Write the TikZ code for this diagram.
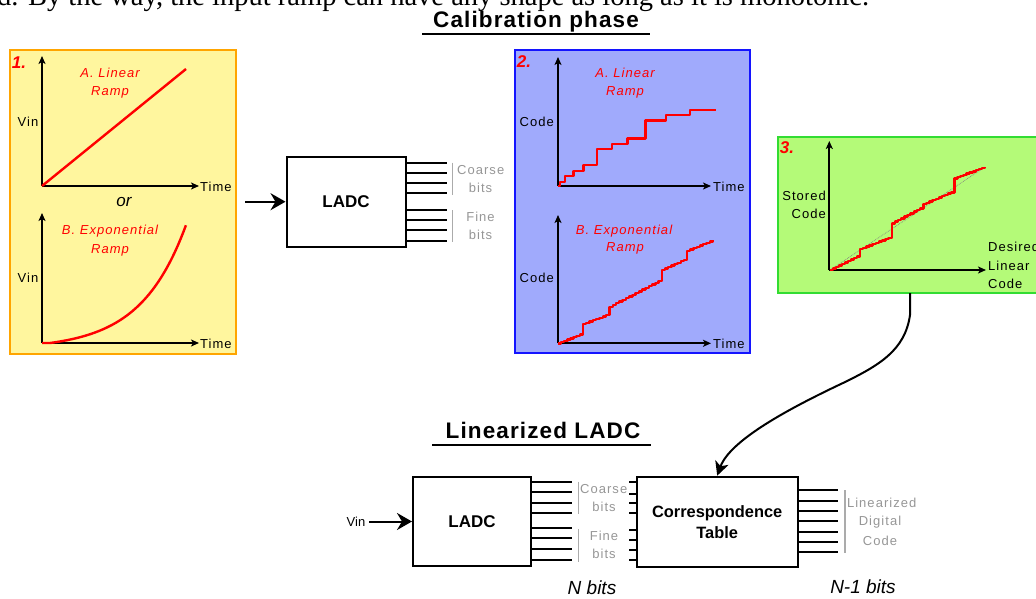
\documentclass[tikz,border=0pt]{standalone}
\usepackage{fontspec}
\setmainfont{Liberation Sans}
\newfontfamily\tnrfont{Liberation Serif}
\newfontfamily\titlefont[LetterSpace=5]{Liberation Sans}
\newfontfamily\spfont[LetterSpace=8]{Liberation Sans}
\usetikzlibrary{arrows.meta}
\newcommand\pxs[1]{\fontsize{#1}{#1}\selectfont}
\definecolor{pyellow}{RGB}{255,246,158}
\definecolor{porange}{RGB}{255,165,0}
\definecolor{pblue}{RGB}{160,170,252}
\definecolor{pblueb}{RGB}{20,20,255}
\definecolor{pgreen}{RGB}{180,250,120}
\definecolor{pgreenb}{RGB}{50,220,50}
\definecolor{lgray}{RGB}{150,150,150}
\definecolor{rred}{RGB}{255,0,0}
\begin{document}
\begin{tikzpicture}[x=1pt,y=-1pt,
 panel/.style={line width=2pt, anchor=north west, inner sep=0, outer sep=0},
 axis/.style={line width=1.8pt, -{Stealth[length=8pt,width=7pt,inset=2pt]}},
 ramp/.style={rred, line width=2.4pt, line join=round},
 lbl/.style={inner sep=0, font=\spfont\pxs{13}},
 rlbl/.style={inner sep=0, text=rred, font=\spfont\pxs{13}\itshape},
 num/.style={inner sep=0, text=rred, font=\pxs{17}\bfseries\itshape},
 glbl/.style={inner sep=0, text=lgray, font=\spfont\pxs{13}},
 box/.style={draw, line width=2pt, fill=white, inner sep=0},
 wire/.style={line width=2pt},
 bar/.style={line width=1.5pt, color=lgray!80},
 bigarrow/.style={line width=2pt, -{Stealth[length=15pt,width=17pt,inset=5pt]}},
 title/.style={inner sep=0, font=\titlefont\pxs{22.5}\bfseries},
 ]
\useasboundingbox (0,0) rectangle (1036,599);
\clip (0,0) rectangle (1036,599);

% cropped sentence at the top (cut off by the picture's edge, as in the source)
\node[anchor=base west, inner sep=0, font=\tnrfont\pxs{28.5}] (intro) at (-3,5.5) {d. By the way, the input ramp can have any shape as long as it is monotonic.};

% titles
\node[title] (cal) at (536,21.5) {Calibration phase};
\draw[line width=2pt] (422,34) -- (650,34);
\node[title] (lin) at (543,430) {Linearized LADC};
\draw[line width=2pt] (432,444.5) -- (651,444.5);

% panels
\node[panel, draw=porange, fill=pyellow, minimum width=226pt, minimum height=304pt] (p1) at (10,50) {};
\node[panel, draw=pblueb, fill=pblue, minimum width=235pt, minimum height=303pt] (p2) at (515,50) {};
\node[panel, draw=pgreenb, fill=pgreen, minimum width=264pt, minimum height=156pt] (p3) at (778,137) {};

% panel 1
\node[num] (n1) at (19,63) {1.};
\draw[axis] (42,186) -- (42,56);
\draw[axis] (42,186) -- (199,186);
\node[lbl, anchor=west] (t1a) at (200,187) {Time};
\node[lbl] (v1a) at (28,122) {Vin};
\draw[ramp] (42,186) -- (186,69);
\node[rlbl] (r1a) at (110,73) {A. Linear};
\node[rlbl] (r1b) at (110,92) {Ramp};
\node[inner sep=0, font=\pxs{17}\itshape] (or) at (124,202) {or};
\draw[axis] (42,343) -- (42,213);
\draw[axis] (42,343) -- (199,343);
\node[lbl, anchor=west] (t1b) at (200,344) {Time};
\node[lbl] (v1b) at (28,278) {Vin};
\draw[ramp] (42,343) -- (50,343) -- plot[domain=0:1, samples=60] ({50+136*\x},{343-118*(exp(3.0*\x)-1)/(exp(3.0)-1)});
\node[rlbl] (r1c) at (110,231) {B. Exponential};
\node[rlbl] (r1d) at (110,250) {Ramp};

% LADC (calibration)
\node[box, minimum width=119pt, minimum height=90pt, font=\pxs{17}\bfseries] (ladc1) at (346,201.7) {LADC};
\coordinate (in1) at (245,201.7);
\draw[bigarrow] (in1) -- (ladc1.west);
\foreach \y in {162.7,172.7,183.3,193.3,210,220,230,240.7} \draw[wire] (405.5,\y) -- (447,\y);
\draw[bar] (452.3,162.7) -- (452.3,195);
\draw[bar] (452.3,210) -- (452.3,241.7);
\node[glbl] (cb1) at (480.7,170) {Coarse};
\node[glbl] (cb2) at (480.5,188) {bits};
\node[glbl] (fb1) at (480.5,217) {Fine};
\node[glbl] (fb2) at (480.5,235) {bits};

% panel 2
\node[num] (n2) at (524,62) {2.};
\draw[axis] (558,186) -- (558,57);
\draw[axis] (558,186) -- (711,186);
\node[lbl, anchor=west] (t2a) at (713,186.5) {Time};
\node[lbl, anchor=east] (c2a) at (554,122) {Code};
\node[rlbl] (r2a) at (625,73) {A. Linear};
\node[rlbl] (r2b) at (625,92) {Ramp};
\draw[ramp] (558,186) -- (560,186) -- (560,182) -- (565,182) -- (565,176) -- (573.3,176) -- (573.3,170.7) -- (583.3,170.7) -- (583.3,165) -- (596.7,165) -- (596.7,149) -- (611.7,149) -- (611.7,144) -- (627.3,144) -- (627.3,138.7) -- (645.3,138.7) -- (645.3,120.7) -- (666,120.7) -- (666,115.3) -- (690,115.3) -- (690,110) -- (716,110);
\draw[axis] (558,343.3) -- (558,215);
\draw[axis] (558,343.3) -- (711,343.3);
\node[lbl, anchor=west] (t2b) at (713,343.8) {Time};
\node[lbl, anchor=east] (c2b) at (554,278.3) {Code};
\node[rlbl] (r2c) at (624,231) {B. Exponential};
\node[rlbl] (r2d) at (625,248.5) {Ramp};
\draw[ramp] (558,343.3) foreach \i in {1,...,8}{ -- ++(3.1,0) -- ++(0,-1.25)} -- ++(0,-9.3)
  foreach \i in {1,...,8}{ -- ++(3.33,0) -- ++(0,-1.25)} -- ++(0,-7.3)
  foreach \i in {1,...,16}{ -- ++(3.28,0) -- ++(0,-1.71)} -- ++(0,-9.3)
  foreach \i in {1,...,8}{ -- ++(3.13,0) -- ++(0,-1.46)} -- ++(0,-7.6)
  foreach \i in {1,...,8}{ -- ++(3.25,0) -- ++(0,-1.34)};

% panel 3
\node[num] (n3) at (787,148) {3.};
\draw[axis] (829.3,270) -- (829.3,141);
\draw[axis] (829.3,270) -- (986,270);
\node[lbl, anchor=east] (s3a) at (826,196) {Stored};
\node[lbl, anchor=east] (s3b) at (826,214.3) {Code};
\node[lbl, anchor=west] (d3a) at (988,246.7) {Desired};
\node[lbl, anchor=west] (d3b) at (988,265.7) {Linear};
\node[lbl, anchor=west] (d3c) at (988,284.3) {Code};
\draw[densely dotted, gray, line width=0.7pt] (830,270) -- (985,167);
\draw[ramp] (830,270) foreach \i in {1,...,10}{ -- ++(3,0) -- ++(0,-1.5)} -- ++(0,-6)
  foreach \i in {1,...,10}{ -- ++(3.17,0) -- ++(0,-1.23)} -- ++(0,-13.4)
  foreach \i in {1,...,10}{ -- ++(3.16,0) -- ++(0,-1.66)} -- ++(0,-2.7)
  foreach \i in {1,...,10}{ -- ++(3.1,0) -- ++(0,-1.3)} -- ++(0,-12.7)
  foreach \i in {1,...,10}{ -- ++(3.07,0) -- ++(0,-1.16)};

% linearized LADC
\node[box, minimum width=118pt, minimum height=89pt, font=\pxs{17}\bfseries] (ladc2) at (472,521.5) {LADC};
\node[inner sep=0, font=\pxs{13}] (vin) at (356,521.5) {Vin};
\draw[bigarrow, shorten <=4pt] (vin) -- (ladc2);
\foreach \y in {481.7,491.7,502.7,512.7,528.3,538.3,549.3,560} \draw[wire] (531,\y) -- (572,\y);
\draw[bar] (578.3,481.7) -- (578.3,514);
\draw[bar] (578.3,529.3) -- (578.3,561.7);
\node[glbl] (cb3) at (603.7,489) {Coarse};
\node[glbl] (cb4) at (604,507.3) {bits};
\node[glbl] (fb3) at (604,536) {Fine};
\node[glbl] (fb4) at (604,554.3) {bits};
\node[inner sep=0, font=\pxs{19}\itshape] (nb) at (592,588) {N bits};

\node[box, minimum width=161pt, minimum height=90pt, font=\fontsize{16.4}{21}\selectfont\bfseries, align=center] (corr) at (717.2,521.7) {Correspondence\\Table};
\foreach \y in {481.7,494,503.3,513.3,530,540,550,560} \draw[wire] (629,\y) -- (637,\y);
\foreach \y in {490,500.7,511,521,531.7,542.3,552.3} \draw[wire] (798,\y) -- (838.3,\y);
\draw[bar] (845,490) -- (845,553.3);
\node[glbl] (ld1) at (881.7,503.3) {Linearized};
\node[glbl] (ld2) at (880,522.3) {Digital};
\node[glbl] (ld3) at (880,541) {Code};
\node[inner sep=0, font=\pxs{19}\itshape] (nb1) at (863,587) {N-1 bits};

% curved arrow from panel 3 to the correspondence table
\draw[line width=2pt, -{Stealth[length=14pt,width=14pt,inset=4pt]}] (p3.south) -- ++(0,22) .. controls (905,350) and (880,365) .. (843,383) .. controls (790,408) and (730,440) .. (corr.north);
\end{tikzpicture}
\end{document}
